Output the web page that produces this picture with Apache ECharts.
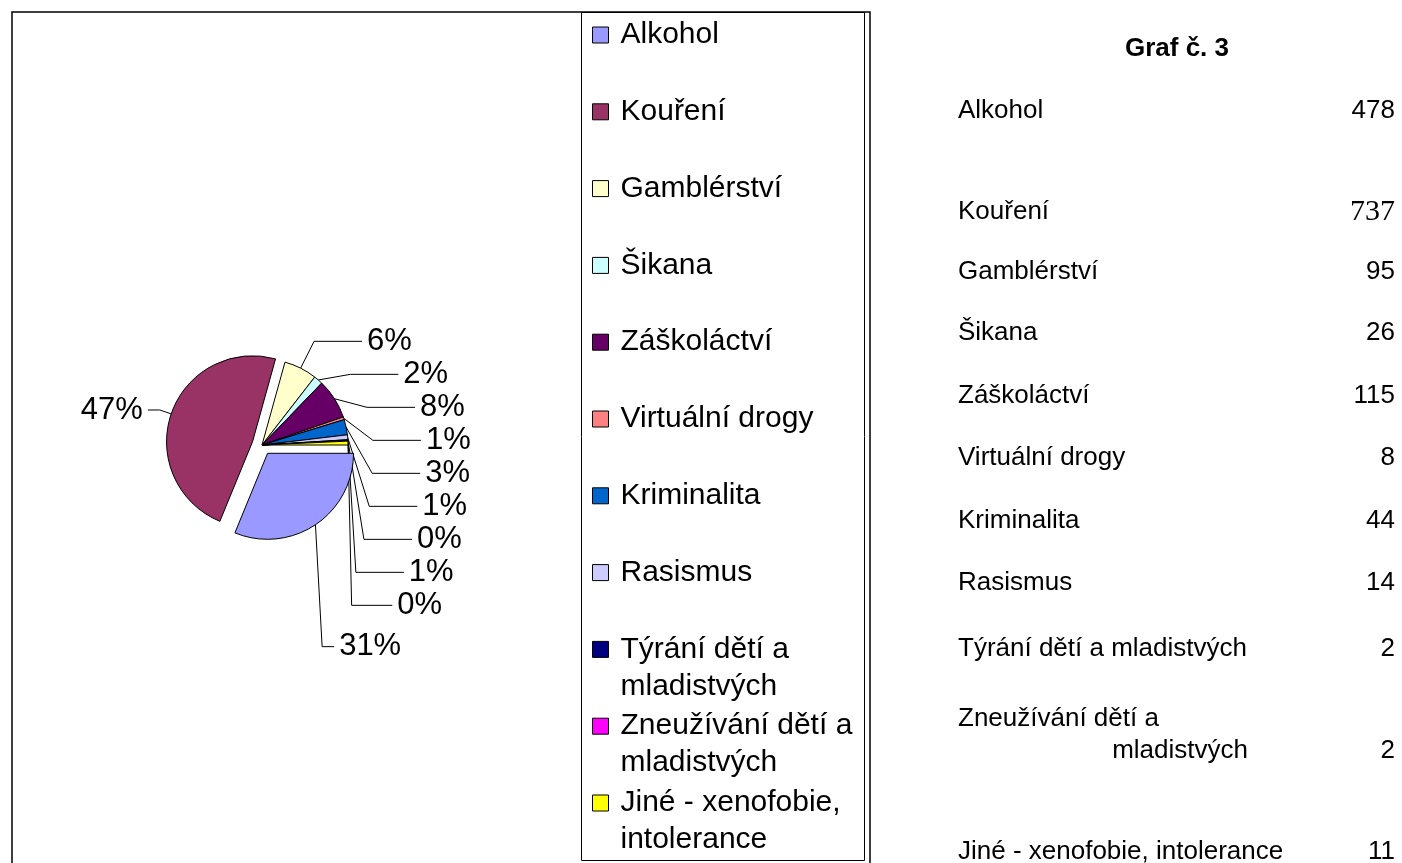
<!DOCTYPE html>
<html>
<head>
<meta charset="utf-8">
<script src="https://cdn.jsdelivr.net/npm/echarts@6/dist/echarts.min.js"></script>
<style>
html,body{margin:0;padding:0;background:#fff;}
#main{width:1402px;height:863px;}
</style>
</head>
<body>
<div id="main"></div>
<script>
// ---- data ----
const categories = ['Alkohol','Kouření','Gamblérství','Šikana','Záškoláctví','Virtuální drogy','Kriminalita','Rasismus','Týrání dětí a mladistvých','Zneužívání dětí a mladistvých','Jiné - xenofobie, intolerance'];
const values = [478, 737, 95, 26, 115, 8, 44, 14, 2, 2, 11];
const pctLabels = ['31%','47%','6%','2%','8%','1%','3%','1%','0%','1%','0%'];
const explodedSlices = ['Alkohol','Kouření'];
const tableTitle = 'Graf č. 3';

// ---- styles / layout ----
const colors = ['#9999FF','#993366','#FFFFCC','#CCFFFF','#660066','#FF8080','#0066CC','#CCCCFF','#000080','#FF00FF','#FFFF00'];
const FONT = '"Liberation Sans", Arial, sans-serif';
const legendFirstY = 35, legendStep = 76.8, legendLine = 37;
const tableRowY = [111, 212, 272, 333, 396, 458, 521, 583, 649, 751, 852];
const TABLE_FS = 26;

function wrapName(name){
  return name.replace(' a mladistvých', ' a\nmladistvých').replace('xenofobie, ', 'xenofobie,\n');
}
function legendText(name){
  const w = wrapName(name);
  // leading blank line keeps the first text line level with the icon
  return w.indexOf('\n') >= 0 ? '\n' + w : w;
}

const legends = categories.map((name, i) => {
  const lines = legendText(name).split('\n').length;
  const c = legendFirstY + legendStep * i;
  return {
    data: [name],
    orient: 'vertical',
    left: 592,
    top: c - (lines * legendLine) / 2,
    padding: 0,
    icon: 'rect',
    itemWidth: 16,
    itemHeight: 16,
    selectedMode: false,
    itemStyle: {borderColor: '#000', borderWidth: 1},
    formatter: legendText,
    textStyle: {fontSize: 30, fontFamily: FONT, color: '#000', lineHeight: legendLine, padding: [0, 0, 0, 7]}
  };
});

const graphics = [
  {type: 'rect', shape: {x: 12, y: 12, width: 858, height: 880}, style: {fill: 'none', stroke: '#000', lineWidth: 1.5}, z: -1},
  {type: 'rect', shape: {x: 581.5, y: 12.5, width: 283, height: 848}, style: {fill: '#fff', stroke: '#000', lineWidth: 1}, z: -1},
  {type: 'text', x: 1177, y: 49, style: {text: tableTitle, fontSize: 26, fontWeight: 'bold', fontFamily: FONT, fill: '#000', align: 'center', verticalAlign: 'middle'}}
];
categories.forEach((name, i) => {
  const y = tableRowY[i];
  if (name === 'Zneužívání dětí a mladistvých') {
    const parts = wrapName(name).split('\n');
    graphics.push({type: 'text', x: 958, y: y - 32, style: {text: parts[0], fontSize: TABLE_FS, fontFamily: FONT, fill: '#000', align: 'left', verticalAlign: 'middle'}});
    graphics.push({type: 'text', x: 1248, y: y, style: {text: parts[1], fontSize: TABLE_FS, fontFamily: FONT, fill: '#000', align: 'right', verticalAlign: 'middle'}});
  } else {
    graphics.push({type: 'text', x: 958, y: y, style: {text: name, fontSize: TABLE_FS, fontFamily: FONT, fill: '#000', align: 'left', verticalAlign: 'middle'}});
  }
  const serif = name === 'Kouření';
  graphics.push({type: 'text', x: 1395, y: y, style: {text: String(values[i]), fontSize: serif ? 30 : TABLE_FS, fontFamily: serif ? '"Liberation Serif", "Times New Roman", serif' : FONT, fill: '#000', align: 'right', verticalAlign: 'middle'}});
});

const chart = echarts.init(document.getElementById('main'), null, {renderer: 'canvas'});
chart.setOption({
  animation: false,
  backgroundColor: '#fff',
  color: colors,
  legend: legends,
  graphic: graphics,
  series: [{
    type: 'pie',
    center: [262, 445],
    radius: 86,
    startAngle: 0,
    clockwise: true,
    selectedMode: 'multiple',
    selectedOffset: 10,
    avoidLabelOverlap: true,
    itemStyle: {borderColor: '#000', borderWidth: 1},
    emphasis: {disabled: true},
    label: {
      show: true,
      position: 'outside',
      formatter: p => pctLabels[p.dataIndex],
      fontSize: 31,
      fontFamily: FONT,
      color: '#000'
    },
    labelLine: {show: true, length: 12, length2: 12, lineStyle: {color: '#000', width: 1}},
    data: categories.map((n, i) => {
      const big = explodedSlices.includes(n);
      const item = {name: n, value: values[i], selected: big};
      if (!big) item.labelLine = {length: 30, length2: 48};
      return item;
    })
  }]
});
</script>
</body>
</html>
